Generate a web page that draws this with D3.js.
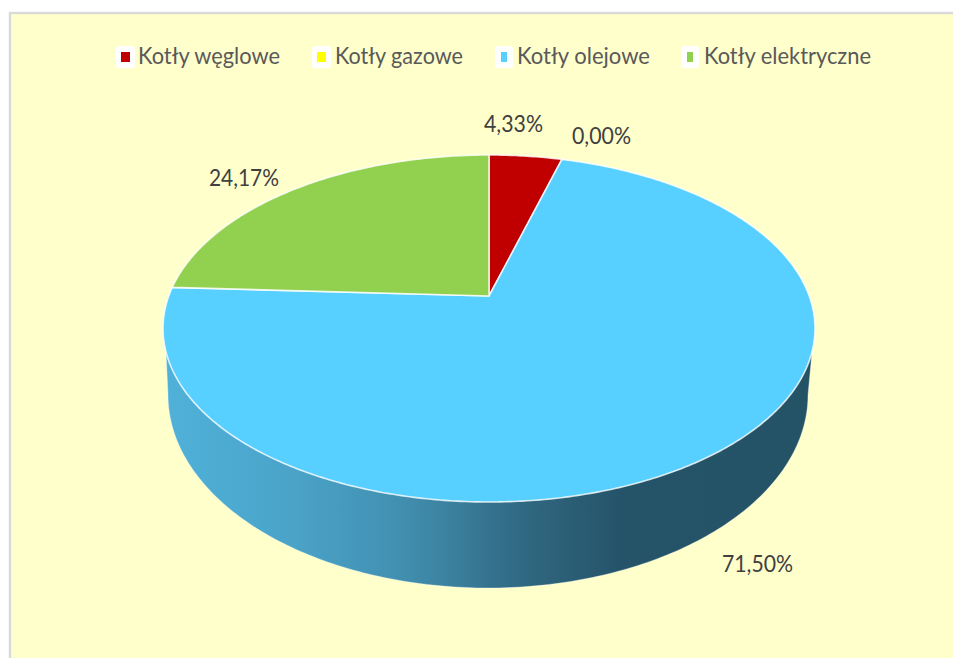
<!DOCTYPE html>
<html><head><meta charset="utf-8">
<script src="https://cdn.jsdelivr.net/npm/d3@7"></script>
<style>html,body{margin:0;padding:0;background:#fff;overflow:hidden}svg{display:block}text{font-family:Lato,sans-serif}</style>
</head><body><div id="chart"></div>
<script>
const categories = ["Kotły węglowe","Kotły gazowe","Kotły olejowe","Kotły elektryczne"];
const shares = [4.33,0.00,71.50,24.17];
const shareLabels = ["4,33%","0,00%","71,50%","24,17%"];
const colors = ["#C00000","#FFFF00","#57CFFF","#92D050"];

const W=953,H=658;
const svg=d3.select("#chart").append("svg").attr("width",W).attr("height",H);
const defs=svg.append("defs");
const grad=defs.append("linearGradient").attr("id","side").attr("gradientUnits","userSpaceOnUse")
  .attr("x1",165).attr("x2",815).attr("y1",0).attr("y2",0);
[[0,"#50B1D9"],[0.2,"#4AA3C8"],[0.35,"#4291B2"],[0.45,"#3A7F9C"],[0.5,"#34728D"],[0.58,"#2E647C"],[0.7,"#25546A"],[1,"#245366"]]
 .forEach(s=>grad.append("stop").attr("offset",s[0]).attr("stop-color",s[1]));

// frame
svg.append("rect").attr("x",10).attr("y",13).attr("width",W).attr("height",H)
  .attr("fill","#FFFFCC").attr("stroke","#D9D9D9").attr("stroke-width",2.4);

// perspective disc: unit circle -> screen, centre maps to the apex
const apex={x:489,y:296}, reach={up:141,down:206}, halfW=326;
const C=(reach.up-reach.down)/(reach.up+reach.down);
const A=reach.down*(1+C), D=halfW*Math.sqrt(1-C*C);
function project(a){
  const u=Math.sin(a),v=-Math.cos(a),w=1+C*v;
  return [apex.x+D*u/w,apex.y+A*v/w];
}
const line=d3.line();
const pie=d3.pie().sort(null).value(d=>d)(shares);

// side wall
const rim={cx:489,cy:328.5,rx:326,ry:173.5}, base={cx:488,cy:395,rx:320,ry:193};
const rimStart=0.135;
const wall=[];
wall.push([rim.cx+rim.rx*Math.sqrt(1-rimStart*rimStart),rim.cy+rim.ry*rimStart]);
d3.range(0,Math.PI+0.001,Math.PI/180).forEach(t=>wall.push([base.cx+base.rx*Math.cos(t),base.cy+base.ry*Math.sin(t)]));
wall.push([rim.cx-rim.rx*Math.sqrt(1-rimStart*rimStart),rim.cy+rim.ry*rimStart]);
svg.append("path").attr("d",line(wall)+"Z").attr("fill","url(#side)")
  .attr("stroke","#fff").attr("stroke-opacity",.45).attr("stroke-width",.8);

// top slices
svg.append("g").selectAll("path").data(pie).join("path")
  .attr("d",d=>{
    const n=Math.max(1,Math.ceil((d.endAngle-d.startAngle)*90));
    const pts=[[apex.x,apex.y]];
    for(let i=0;i<=n;i++)pts.push(project(d.startAngle+(d.endAngle-d.startAngle)*i/n));
    return line(pts)+"Z";
  })
  .attr("fill",(d,i)=>colors[i])
  .attr("stroke",d=>d.value===0?"none":"#fff").attr("stroke-opacity",.8).attr("stroke-width",1.6).attr("stroke-linejoin","round");

// data labels
const labelBox=[{x:484,y:132,w:59},{x:572,y:144,w:59},{x:722,y:572,w:71},{x:209,y:186,w:70}];
svg.append("g").selectAll("text").data(shareLabels).join("text")
  .attr("x",(d,i)=>labelBox[i].x).attr("y",(d,i)=>labelBox[i].y)
  .attr("textLength",(d,i)=>labelBox[i].w).attr("lengthAdjust","spacingAndGlyphs")
  .attr("font-size",24).attr("fill","#404040").text(d=>d);

// legend
const legendBox=[
 {x:116,w:19,ix:121,iw:9,tx:138,tw:142},
 {x:312,w:19,ix:317,iw:9,tx:335,tw:128},
 {x:495,w:18,ix:501,iw:6,tx:517,tw:133},
 {x:681,w:18,ix:687,iw:6,tx:704,tw:167}];
const lg=svg.append("g").selectAll("g").data(categories).join("g");
lg.append("rect").attr("x",(d,i)=>legendBox[i].x).attr("y",46).attr("width",(d,i)=>legendBox[i].w).attr("height",22).attr("rx",3).attr("fill","#fff");
lg.append("rect").attr("x",(d,i)=>legendBox[i].ix).attr("y",52).attr("width",(d,i)=>legendBox[i].iw).attr("height",10).attr("fill",(d,i)=>colors[i]);
lg.append("text").attr("x",(d,i)=>legendBox[i].tx).attr("y",63.5)
  .attr("textLength",(d,i)=>legendBox[i].tw).attr("lengthAdjust","spacingAndGlyphs")
  .attr("font-size",24).attr("fill","#595959").text(d=>d);
</script></body></html>
